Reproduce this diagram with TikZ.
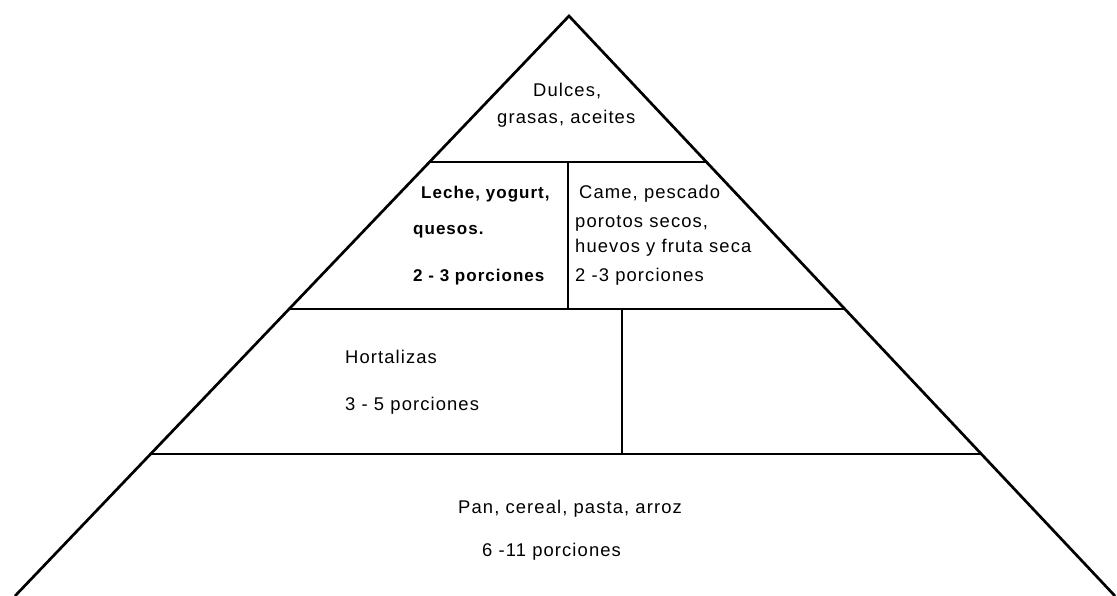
\documentclass[tikz,border=0pt]{standalone}
\usepackage{fontspec}
\newfontfamily\pyrfont[LetterSpace=6]{Liberation Sans}
\usetikzlibrary{calc}
\begin{document}
\begin{tikzpicture}[x=1pt,y=-1pt,
  edge/.style={line width=2.7pt, line join=miter},
  tier/.style={line width=2.9pt},
  lbl/.style={font=\pyrfont\fontsize{18.4}{21}\selectfont, anchor=base west, inner sep=0pt},
  lblb/.style={font=\pyrfont\bfseries\fontsize{17}{20}\selectfont, anchor=base west, inner sep=0pt}]
\useasboundingbox (0,0) rectangle (1117,596);
\coordinate (apex) at (569,16);
\coordinate (bl) at (15,596);
\coordinate (br) at (1115,596);
\begin{scope}
\clip (0,0) rectangle (1117,596);
\draw[edge] (bl) -- (apex) -- (br);
\end{scope}
% tier boundaries
\coordinate (l1) at ($(apex)!0.2517!(bl)$);
\coordinate (r1) at ($(apex)!0.2517!(br)$);
\coordinate (l2) at ($(apex)!0.5052!(bl)$);
\coordinate (r2) at ($(apex)!0.5052!(br)$);
\coordinate (l3) at ($(apex)!0.7552!(bl)$);
\coordinate (r3) at ($(apex)!0.7552!(br)$);
\draw[tier] (l1) -- (r1);
\draw[tier] (l2) -- (r2);
\draw[tier] (l3) -- (r3);
% dividers
\coordinate (v1t) at (568,162);
\coordinate (v1b) at (568,309);
\coordinate (v2t) at (622,309);
\coordinate (v2b) at (622,454);
\draw[tier] (v1t) -- (v1b);
\draw[tier] (v2t) -- (v2b);
% labels
\node[lbl] (d1) at (533,97) {Dulces,};
\node[lbl] (d2) at (497,124) {grasas, aceites};
\node[lblb] (m1) at (421,199) {Leche, yogurt,};
\node[lblb] (m2) at (413,235) {quesos.};
\node[lblb] (m3) at (413,282) {2 - 3 porciones};
\node[lbl] (c1) at (579,199) {Came, pescado};
\node[lbl] (c2) at (575,228) {porotos secos,};
\node[lbl] (c3) at (575,253) {huevos y fruta seca};
\node[lbl] (c4) at (575,281) {2 -3 porciones};
\node[lbl] (h1) at (345,363) {Hortalizas};
\node[lbl] (h2) at (345,410) {3 - 5 porciones};
\node[lbl] (p1) at (458,513) {Pan, cereal, pasta, arroz};
\node[lbl] (p2) at (482,556) {6 -11 porciones};
\end{tikzpicture}
\end{document}
